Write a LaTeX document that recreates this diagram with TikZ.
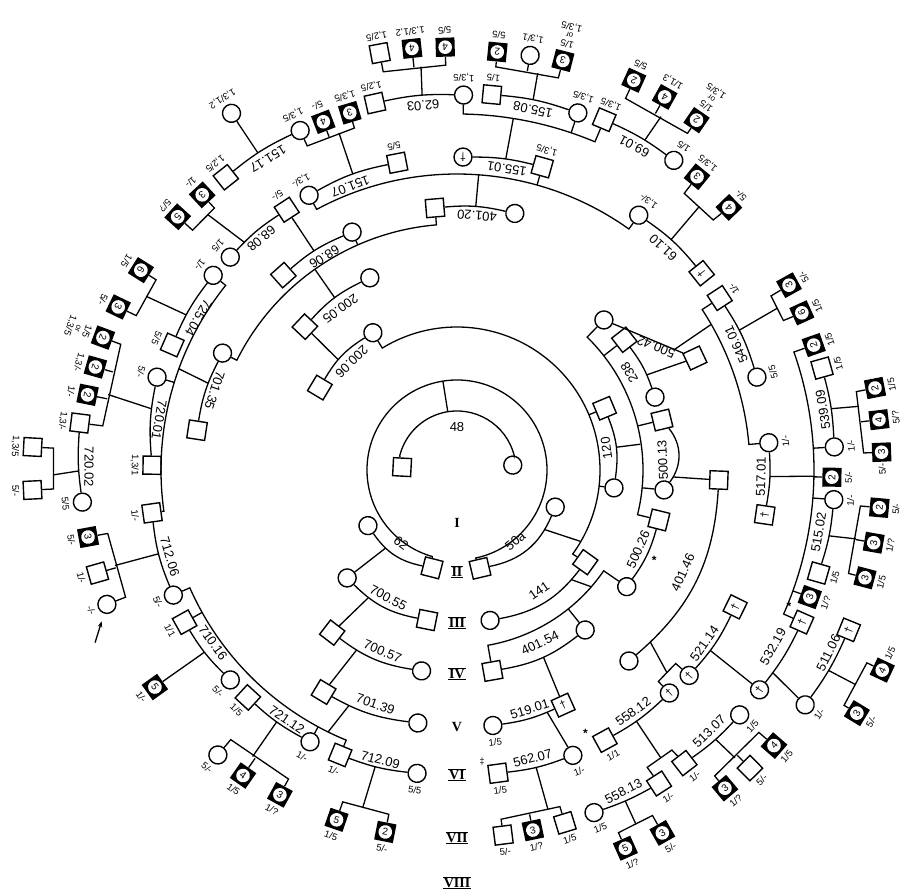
\documentclass[tikz,border=0pt]{standalone}
\usepackage{fontspec}
\setmainfont{Liberation Sans}
\newfontfamily\romanfont{Liberation Serif}
\usetikzlibrary{positioning, arrows.meta}
\tikzset{man/.style={draw, rectangle, minimum size=18pt, inner sep=0pt, line width=1.4pt},
woman/.style={draw, circle, minimum size=18pt, inner sep=0pt, line width=1.4pt},
sib/.style={rectangle, fill=black, minimum size=19pt, inner sep=0pt, font=\fontsize{10}{10}\selectfont,
  path picture={\fill[white] (path picture bounding box.center) circle (6.8pt);}},
gone/.style={font=\fontsize{11}{11}\selectfont},
lbl/.style={font=\fontsize{9.5}{10}\selectfont, inner sep=1.2pt, outer sep=2.4pt, align=center},
orr/.style={font=\fontsize{8}{9}\selectfont, inner sep=0.6pt, align=center},
fam/.style={font=\fontsize{13}{13}\selectfont, inner sep=0pt},
gen/.style={font=\romanfont\bfseries\fontsize{14}{14}\selectfont, inner sep=0.6pt},
bars/.style={append after command={(\tikzlastnode.north west) edge[line width=1pt] (\tikzlastnode.north east)
  (\tikzlastnode.south west) edge[line width=1pt] (\tikzlastnode.south east)}},
astx/.style={font=\bfseries\fontsize{12}{12}\selectfont, inner sep=0pt},
rot/.style={rotate=#1+90},
kin/.style={line width=1.3pt}}

\begin{document}
\begin{tikzpicture}[x=1pt, y=1pt]
  \useasboundingbox (-457,-420) rectangle (445,470);
  % generations I and II
  \node[man, rot=177] (i1) at (177:55) {};
  \node[woman, rot=5] (i2) at (5:56) {};
  \node[fam] (f48) at (0,43) {48};
  \node[man, rot=-104.3] (ii62h) at (-104.3:101) {};
  \node[woman, rot=-148] (ii62w) at (-148:105) {};
  \node[man, rot=-76.8] (ii50h) at (-76.8:101) {};
  \node[woman, rot=-20.7] (ii50w) at (-20.7:105) {};
  \node[fam, rot=-127.5] (f62) at (-127.5:92) {62};
  \node[fam, rot=-50.7] (f50a) at (-50.7:92) {50a};
  % generation III
  \node[man, rot=-101.3] (iii55h) at (-101.3:153) {};
  \node[woman, rot=-135.5] (iii55w) at (-135.5:154) {};
  \node[fam, rot=-118.3] (f70055) at (-118.3:145) {700.55};
  \node[woman, rot=-77.6] (iii141w) at (-77.6:154) {};
  \node[man, rot=-35.7] (iii141h) at (-35.7:158) {};
  \node[fam, rot=-55.8] (f141) at (-55.8:146) {141};
  \node[woman, rot=-6.5] (iii120w) at (-6.5:158) {};
  \node[man, rot=22.7] (iii120h) at (22.7:160) {};
  \node[fam, rot=8.3] (f120) at (8.3:151) {120};
  \node[man, rot=149] (iii206h) at (149:160) {};
  \node[woman, rot=121.5] (iii206w) at (121.5:161) {};
  \node[fam, rot=134.2] (f20006) at (134.2:151) {200.06};
  % generation IV
  \node[man, rot=-127.5] (iv57h) at (-127.5:205) {};
  \node[woman, rot=-100] (iv57w) at (-100:204) {};
  \node[fam, rot=-112.3] (f70057) at (-112.3:196) {700.57};
  \node[man, rot=-80] (iv154h) at (-80:204) {};
  \node[woman, rot=-51.3] (iv154w) at (-51.3:205) {};
  \node[fam, rot=-64.4] (f40154) at (-64.4:192) {401.54};
  \node[man, rot=-13.9] (iv26h) at (-13.9:208) {};
  \node[woman, rot=-34.5] (iv26w) at (-34.5:206) {};
  \node[fam, rot=-23.7] (f50026) at (-23.7:198) {500.26};
  \node[man, rot=13.7] (iv13h) at (13.7:211) {};
  \node[woman, rot=-5.5] (iv13w) at (-5.5:208) {};
  \node[fam, rot=2.8] (f50013) at (2.8:206) {500.13};
  \node[man, rot=37.9] (iv238h) at (37.9:212) {};
  \node[woman, rot=20.2] (iv238w) at (20.2:211) {};
  \node[fam, rot=29.5] (f238) at (29.5:198) {238};
  \node[woman, rot=45.6] (iv42w) at (45.6:210) {};
  \node[man, rot=136.7] (iv205h) at (136.7:209) {};
  \node[woman, rot=114.4] (iv205w) at (114.4:211) {};
  \node[fam, rot=125.8] (f20005) at (125.8:199) {200.05};
  % generation V
  \node[man, rot=-121] (v39h) at (-121:259) {};
  \node[woman, rot=-98.8] (v39w) at (-98.8:256) {};
  \node[fam, rot=-109.2] (f70139) at (-109.2:248) {701.39};
  \node[man, gone, rot=-65.7] (v519h) at (-65.7:258) {†};
  \node[woman, rot=-82] (v519w) at (-82:258) {};
  \node[lbl, rot=-82, below=0pt of v519w] (v519wl) {1/5};
  \node[fam, rot=-73.1] (f51901) at (-73.1:250) {519.01};
  \node[man, rot=-2.2] (v46h) at (-2.2:262) {};
  \node[woman, rot=-48] (v46w) at (-48:257) {};
  \node[fam, rot=-24.4] (f40146) at (-24.4:248) {401.46};
  \node[man, rot=25.2] (v42h) at (25.2:263) {};
  \node[fam, rotate=158] (f50042) at (31.7:234) {500.42};
  \node[man, rot=94.8] (v20h) at (94.8:263) {};
  \node[woman, rot=77.3] (v20w) at (77.3:263) {};
  \node[fam, rot=85.5] (f40120) at (85.5:255) {401.20};
  \node[woman, rot=113.8] (v806w) at (113.8:260) {};
  \node[man, rot=131.7] (v806h) at (131.7:261) {};
  \node[fam, rot=121.9] (f6806) at (121.9:251) {68.06};
  \node[woman, rot=153.5] (v35w) at (153.5:262) {};
  \node[man, rot=171.3] (v35h) at (171.3:263) {};
  \node[fam, rot=161.8] (f70135) at (161.8:255) {701.35};
  % generation VI
  \node[woman, rot=118.3] (vi07w) at (118.3:312) {};
  \node[lbl, rot=118.3, below=0pt of vi07w] (vi07wl) {1,3/-};
  \node[man, rot=101] (vi07h) at (101:313) {};
  \node[lbl, rot=101, below=0pt of vi07h] (vi07hl) {5/5};
  \node[fam, rot=110.6] (f15107) at (110.6:303) {151.07};
  \node[woman, gone, rot=88.9] (vi01w) at (88.9:313) {†};
  \node[man, rot=74.3] (vi01h) at (74.3:315) {};
  \node[lbl, rot=74.3, below=0pt of vi01h] (vi01hl) {1,3/5};
  \node[fam, rot=80.6] (f15501) at (80.6:305) {155.01};
  \node[woman, rot=54.5] (vi10w) at (54.5:313) {};
  \node[lbl, rot=54.5, below=0pt of vi10w] (vi10wl) {1,3/-};
  \node[man, gone, rot=38.8] (vi10h) at (38.8:314) {†};
  \node[fam, rot=47.1] (f6110) at (47.1:303) {61.10};
  \node[man, rot=33.2] (vi46h) at (33.2:314) {};
  \node[lbl, rot=33.2, below=0pt of vi46h] (vi46hl) {1/-};
  \node[woman, rot=17.2] (vi46w) at (17.2:314) {};
  \node[lbl, rot=17.2, below=0pt of vi46w] (vi46wl) {5/5};
  \node[fam, rot=24.2] (f54601) at (24.2:306) {546.01};
  \node[woman, rot=5] (vi17w) at (5:313) {};
  \node[lbl, rot=5, below=0pt of vi17w] (vi17wl) {1/-};
  \node[man, gone, rot=-8.3] (vi17h) at (-8.3:311) {†};
  \node[fam, rot=-1.3] (f51701) at (-1.3:304) {517.01};
  \node[man, gone, rot=-26.2] (vi14h) at (-26.2:310) {†};
  \node[woman, gone, rot=-41.5] (vi14w) at (-41.5:310) {†};
  \node[fam, rot=-35] (f52114) at (-35:302) {521.14};
  \node[woman, gone, rot=-46.4] (vi12w) at (-46.4:308) {†};
  \node[man, rot=-61.3] (vi12h) at (-61.3:308) {};
  \node[lbl, rot=-61.3, below=0pt of vi12h] (vi12hl) {1/1};
  \node[fam, rot=-53.9] (f55812) at (-53.9:299) {558.12};
  \node[woman, rot=-67.9] (vi62w) at (-67.9:308) {};
  \node[lbl, rot=-67.9, below=0pt of vi62w] (vi62wl) {1/-};
  \node[man, rot=-82.3] (vi62h) at (-82.3:306) {};
  \node[lbl, rot=-82.3, below=0pt of vi62h] (vi62hl) {1/5};
  \node[fam, rot=-75.3] (f56207) at (-75.3:298) {562.07};
  \node[woman, rot=-97.5] (vi09w) at (-97.5:306) {};
  \node[lbl, rot=-97.5, below=0pt of vi09w] (vi09wl) {5/5};
  \node[man, rot=-112.3] (vi09h) at (-112.3:308) {};
  \node[lbl, rot=-112.3, below=0pt of vi09h] (vi09hl) {1/-};
  \node[fam, rot=-104.8] (f71209) at (-104.8:300) {712.09};
  \node[woman, rot=-118.4] (vi21w) at (-118.4:309) {};
  \node[lbl, rot=-118.4, below=0pt of vi21w] (vi21wl) {1/-};
  \node[man, rot=-132.6] (vi21h) at (-132.6:309) {};
  \node[lbl, rot=-132.6, below=0pt of vi21h] (vi21hl) {1/5};
  \node[fam, rot=-124.3] (f72112) at (-124.3:302) {721.12};
  \node[woman, rot=-137.2] (vi16w) at (-137.2:309) {};
  \node[lbl, rot=-137.2, below=0pt of vi16w] (vi16wl) {5/-};
  \node[man, rot=209.2] (vi16h) at (209.2:312) {};
  \node[lbl, rot=209.2, below=0pt of vi16h] (vi16hl) {1/1};
  \node[fam, rot=215.3] (f71016) at (215.3:299) {710.16};
  \node[woman, rot=203.8] (vi06w) at (203.8:310) {};
  \node[lbl, rot=203.8, below=0pt of vi06w] (vi06wl) {5/-};
  \node[man, rot=188] (vi06h) at (188:308) {};
  \node[lbl, rot=188, below=0pt of vi06h] (vi06hl) {1/-};
  \node[fam, rot=196.8] (f71206) at (196.8:300) {712.06};
  \node[man, rot=179.1] (vi201h) at (179.1:305) {};
  \node[lbl, rot=179.1, below=0pt of vi201h] (vi201hl) {1,3/1};
  \node[woman, rot=162.8] (vi201w) at (162.8:314) {};
  \node[lbl, rot=162.8, below=0pt of vi201w] (vi201wl) {5/-};
  \node[fam, rot=170.5] (f72001) at (170.5:302) {720.01};
  \node[man, rot=156.3] (vi25h) at (156.3:311) {};
  \node[lbl, rot=156.3, below=0pt of vi25h] (vi25hl) {5/5};
  \node[woman, rot=141.4] (vi25w) at (141.4:312) {};
  \node[lbl, rot=141.4, below=0pt of vi25w] (vi25wl) {1/-};
  \node[fam, rot=149.5] (f72504) at (149.5:300) {725.04};
  \node[woman, rot=136.8] (vi808w) at (136.8:311) {};
  \node[lbl, rot=136.8, below=0pt of vi808w] (vi808wl) {1/5};
  \node[man, rot=123.2] (vi808h) at (123.2:311) {};
  \node[lbl, rot=123.2, below=0pt of vi808h] (vi808hl) {5/-};
  \node[fam, rot=130.2] (f6808) at (130.2:303) {68.08};
  % generation VII
  \node[woman, rot=114.8] (vii17w) at (114.8:374) {};
  \node[lbl, rot=114.8, below=0pt of vii17w] (vii17wl) {1,3/5};
  \node[man, rot=128.3] (vii17h) at (128.3:373) {};
  \node[lbl, rot=128.3, below=0pt of vii17h] (vii17hl) {1,2/5};
  \node[fam, rot=121.3] (f15117) at (121.3:364) {151.17};
  \node[sib, rot=111] (vii07a) at (111:373) {4};
  \node[lbl, rot=111, below=0pt of vii07a] (vii07al) {5/-};
  \node[sib, rot=106.7] (vii07b) at (106.7:373) {3};
  \node[lbl, rot=106.7, below=0pt of vii07b] (vii07bl) {1,3/5};
  \node[man, rot=102.6] (vii03h) at (102.6:376) {};
  \node[lbl, rot=102.6, below=0pt of vii03h] (vii03hl) {1,2/5};
  \node[woman, rot=89] (vii03w) at (89:375) {};
  \node[lbl, rot=89, below=0pt of vii03w] (vii03wl) {1,3/5};
  \node[fam, rot=95.3] (f6203) at (95.3:366) {62.03};
  \node[man, rot=84.7] (vii08h) at (84.7:377) {};
  \node[lbl, rot=84.7, below=0pt of vii08h] (vii08hl) {1/5};
  \node[woman, rot=71.3] (vii08w) at (71.3:377) {};
  \node[lbl, rot=71.3, below=0pt of vii08w] (vii08wl) {1,3/5};
  \node[fam, rot=78.1] (f15508) at (78.1:368) {155.08};
  \node[man, rot=67.2] (vii69h) at (67.2:380) {};
  \node[lbl, rot=67.2, below=0pt of vii69h] (vii69hl) {1,3/5};
  \node[woman, rot=55] (vii69w) at (55:378) {};
  \node[lbl, rot=55, below=0pt of vii69w] (vii69wl) {1/5};
  \node[fam, rot=61.3] (f6901) at (61.3:369) {69.01};
  \node[sib, rot=50.7] (vii10a) at (50.7:379) {3};
  \node[lbl, rot=50.7, below=0pt of vii10a] (vii10al) {1,3/5};
  \node[sib, rot=44] (vii10b) at (44:378) {4};
  \node[lbl, rot=44, below=0pt of vii10b] (vii10bl) {5/-};
  \node[sib, rot=29.1] (vii46a) at (29.1:380) {3};
  \node[lbl, rot=29.1, below=0pt of vii46a] (vii46al) {5/-};
  \node[sib, rot=24.5] (vii46b) at (24.5:379) {6};
  \node[lbl, rot=24.5, below=0pt of vii46b] (vii46bl) {1/5};
  \node[sib, rot=19.3] (vii17a) at (19.3:378) {2};
  \node[lbl, rot=19.3, below=0pt of vii17a] (vii17al) {1/5};
  \node[man, rot=15.6] (vii09h) at (15.6:379) {};
  \node[lbl, rot=15.6, below=0pt of vii09h] (vii09hl) {1/5};
  \node[woman, rot=3.5] (vii09w) at (3.5:378) {};
  \node[lbl, rot=3.5, below=0pt of vii09w] (vii09wl) {1/-};
  \node[fam, rot=9.3] (f53909) at (9.3:371) {539.09};
  \node[sib, rot=-1.1] (vii17b) at (-1.1:375) {2};
  \node[lbl, rot=-1.1, below=0pt of vii17b] (vii17bl) {5/-};
  \node[woman, rot=-4.5] (vii02w) at (-4.5:378) {};
  \node[lbl, rot=-4.5, below=0pt of vii02w] (vii02wl) {1/-};
  \node[man, rot=-15.9] (vii02h) at (-15.9:376) {};
  \node[lbl, rot=-15.9, below=0pt of vii02h] (vii02hl) {1/5};
  \node[fam, rot=-9.8] (f51502) at (-9.8:367) {515.02};
  \node[sib, rot=-19.8] (vii17c) at (-19.8:375) {3};
  \node[lbl, rot=-19.8, below=0pt of vii17c] (vii17cl) {1/?};
  \node[man, gone, rot=-23.8] (vii19h) at (-23.8:377) {†};
  \node[woman, gone, rot=-36] (vii19w) at (-36:374) {†};
  \node[fam, rot=-29.2] (f53219) at (-29.2:362) {532.19};
  \node[woman, rot=-40.9] (vii13w) at (-40.9:374) {};
  \node[lbl, rot=-40.9, below=0pt of vii13w] (vii13wl) {1/5};
  \node[man, rot=-52.2] (vii13h) at (-52.2:371) {};
  \node[lbl, rot=-52.2, below=0pt of vii13h] (vii13hl) {1/-};
  \node[fam, rot=-46] (f51307) at (-46:363) {513.07};
  \node[man, rot=-57.2] (vii58h) at (-57.2:373) {};
  \node[lbl, rot=-57.2, below=0pt of vii58h] (vii58hl) {1/-};
  \node[woman, rot=-68.2] (vii58w) at (-68.2:369) {};
  \node[lbl, rot=-68.2, below=0pt of vii58w] (vii58wl) {1/5};
  \node[fam, rot=-62.6] (f55813) at (-62.6:362) {558.13};
  \node[man, rot=-73] (vii62a) at (-73:369) {};
  \node[lbl, rot=-73, below=0pt of vii62a] (vii62al) {1/5};
  \node[sib, rot=-78.1] (vii62b) at (-78.1:368) {3};
  \node[lbl, rot=-78.1, below=0pt of vii62b] (vii62bl) {1/?};
  \node[man, rot=-82.8] (vii62c) at (-82.8:368) {};
  \node[lbl, rot=-82.8, below=0pt of vii62c] (vii62cl) {5/-};
  \node[sib, rot=-101.2] (vii09a) at (-101.2:369) {2};
  \node[lbl, rot=-101.2, below=0pt of vii09a] (vii09al) {5/-};
  \node[sib, rot=-109] (vii09b) at (-109:370) {5};
  \node[lbl, rot=-109, below=0pt of vii09b] (vii09bl) {1/5};
  \node[sib, rot=-118.6] (vii21a) at (-118.6:370) {3};
  \node[lbl, rot=-118.6, below=0pt of vii21a] (vii21al) {1/?};
  \node[sib, rot=-125] (vii21b) at (-125:373) {4};
  \node[lbl, rot=-125, below=0pt of vii21b] (vii21bl) {1/5};
  \node[woman, rot=-130] (vii21c) at (-130:372) {};
  \node[lbl, rot=-130, below=0pt of vii21c] (vii21cl) {5/-};
  \node[sib, rot=-144.3] (vii16a) at (-144.3:372) {5};
  \node[lbl, rot=-144.3, below=0pt of vii16a] (vii16al) {1/-};
  \node[woman, rot=201] (vii06c) at (201:375) {};
  \node[lbl, rot=201, below=0pt of vii06c] (vii06cl) {-/-};
  \node[man, rot=196] (vii06b) at (196:374) {};
  \node[lbl, rot=196, below=0pt of vii06b] (vii06bl) {1/-};
  \node[sib, rot=190.3] (vii06a) at (190.3:375) {3};
  \node[lbl, rot=190.3, below=0pt of vii06a] (vii06al) {5/-};
  \node[woman, rot=184.9] (vii202w) at (184.9:376) {};
  \node[lbl, rot=184.9, below=0pt of vii202w] (vii202wl) {5/5};
  \node[man, rot=172.9] (vii202h) at (172.9:380) {};
  \node[lbl, rot=172.9, below=0pt of vii202h] (vii202hl) {1,3/-};
  \node[fam, rot=179.5] (f72002) at (179.5:368) {720.02};
  \node[sib, rot=168.5] (vii01c) at (168.5:377) {2};
  \node[lbl, rot=168.5, below=0pt of vii01c] (vii01cl) {1/-};
  \node[sib, rot=164.1] (vii01b) at (164.1:376) {2};
  \node[lbl, rot=164.1, below=0pt of vii01b] (vii01bl) {1,3/-};
  \node[sib, rot=159.5] (vii01a) at (159.5:378) {2};
  \node[lbl, rot=159.5, below=0pt of vii01a] (vii01al) {1/5};
  \node[orr, rot=159.5, below=0pt of vii01al] (vii01ao) {or};
  \node[lbl, rot=159.5, outer sep=0pt, below=0pt of vii01ao] (vii01ap) {1,3/5};
  \node[sib, rot=154.3] (vii25b) at (154.3:376) {3};
  \node[lbl, rot=154.3, below=0pt of vii25b] (vii25bl) {5/-};
  \node[sib, rot=147.7] (vii25a) at (147.7:374) {6};
  \node[lbl, rot=147.7, below=0pt of vii25a] (vii25al) {1/5};
  \node[sib, rot=137.8] (vii808b) at (137.8:377) {5};
  \node[lbl, rot=137.8, below=0pt of vii808b] (vii808bl) {5/?};
  \node[sib, rot=132.8] (vii808a) at (132.8:375) {3};
  \node[lbl, rot=132.8, below=0pt of vii808a] (vii808al) {1/-};
  % generation VIII
  \node[woman, rot=122.3] (viii17) at (122.3:422) {};
  \node[lbl, rot=122.3, below=0pt of viii17] (viii17l) {1,3/1,2};
  \node[man, rot=100.5] (viii03a) at (100.5:424) {};
  \node[lbl, rot=100.5, below=0pt of viii03a] (viii03al) {1,2/5};
  \node[sib, rot=96.1] (viii03b) at (96.1:424) {4};
  \node[lbl, rot=96.1, below=0pt of viii03b] (viii03bl) {1,3/1,2};
  \node[sib, rot=91.6] (viii03c) at (91.6:423) {4};
  \node[lbl, rot=91.6, below=0pt of viii03c] (viii03cl) {5/5};
  \node[sib, rot=84.5] (viii08a) at (84.5:420) {2};
  \node[lbl, rot=84.5, below=0pt of viii08a] (viii08al) {5/5};
  \node[woman, rot=80] (viii08b) at (80:421) {};
  \node[lbl, rot=80, below=0pt of viii08b] (viii08bl) {1,3/1};
  \node[sib, rot=75.5] (viii08c) at (75.5:423) {3};
  \node[lbl, rot=75.5, below=0pt of viii08c] (viii08cl) {1/5};
  \node[orr, rot=75.5, below=0pt of viii08cl] (viii08co) {or};
  \node[lbl, rot=75.5, outer sep=0pt, below=0pt of viii08co] (viii08cp) {1,3/5};
  \node[sib, rot=65.6] (viii69a) at (65.6:428) {2};
  \node[lbl, rot=65.6, below=0pt of viii69a] (viii69al) {5/5};
  \node[sib, rot=60.9] (viii69b) at (60.9:427) {4};
  \node[lbl, rot=60.9, below=0pt of viii69b] (viii69bl) {1/1,3};
  \node[sib, rot=55.6] (viii69c) at (55.6:424) {2};
  \node[lbl, rot=55.6, below=0pt of viii69c] (viii69cl) {1/5};
  \node[orr, rot=55.6, below=0pt of viii69cl] (viii69co) {or};
  \node[lbl, rot=55.6, outer sep=0pt, below=0pt of viii69co] (viii69cp) {1,3/5};
  \node[sib, rot=11.1] (viii09a) at (11.1:426) {2};
  \node[lbl, rot=11.1, below=0pt of viii09a] (viii09al) {1/5};
  \node[sib, rot=6.8] (viii09b) at (6.8:425) {4};
  \node[lbl, rot=6.8, below=0pt of viii09b] (viii09bl) {5/?};
  \node[sib, rot=2.4] (viii09c) at (2.4:425) {3};
  \node[lbl, rot=2.4, outer sep=0.8pt, left=0pt of viii09c] (viii09cl) {5/-};
  \node[sib, rot=-5.1] (viii02a) at (-5.1:424) {2};
  \node[lbl, rot=-5.1, below=0pt of viii02a] (viii02al) {5/-};
  \node[sib, rot=-9.9] (viii02b) at (-9.9:423) {3};
  \node[lbl, rot=-9.9, below=0pt of viii02b] (viii02bl) {1/?};
  \node[sib, rot=-14.8] (viii02c) at (-14.8:422) {3};
  \node[lbl, rot=-14.8, below=0pt of viii02c] (viii02cl) {1/5};
  \node[man, gone, rot=-22.2] (viii06h) at (-22.2:423) {†};
  \node[woman, rot=-34] (viii06w) at (-34:420) {};
  \node[lbl, rot=-34, below=0pt of viii06w] (viii06wl) {1/-};
  \node[fam, rot=-26.2] (f51106) at (-26.2:414) {511.06};
  \node[sib, rot=-41] (viii13a) at (-41:420) {4};
  \node[lbl, rot=-41, below=0pt of viii13a] (viii13al) {1/5};
  \node[man, rot=-45.5] (viii13b) at (-45.5:418) {};
  \node[lbl, rot=-45.5, below=0pt of viii13b] (viii13bl) {5/-};
  \node[sib, rot=-49.9] (viii13c) at (-49.9:416) {3};
  \node[lbl, rot=-49.9, below=0pt of viii13c] (viii13cl) {1/?};
  \node[sib, rot=-60.5] (viii58a) at (-60.5:417) {3};
  \node[lbl, rot=-60.5, below=0pt of viii58a] (viii58al) {5/-};
  \node[sib, rot=-66] (viii58b) at (-66:414) {5};
  \node[lbl, rot=-66, below=0pt of viii58b] (viii58bl) {1/?};
  \node[man, rot=176.9] (viii202a) at (176.9:425) {};
  \node[lbl, rot=176.9, below=0pt of viii202a] (viii202al) {1,3/5};
  \node[man, rot=182.7] (viii202b) at (182.7:425) {};
  \node[lbl, rot=182.7, below=0pt of viii202b] (viii202bl) {5/-};
  \node[sib, rot=-25.2] (ix06a) at (-25.2:470) {4};
  \node[lbl, rot=-25.2, outer sep=0.8pt, right=0pt of ix06a] (ix06al) {1/5};
  \node[sib, rot=-31.3] (ix06b) at (-31.3:468) {3};
  \node[lbl, rot=-31.3, below=0pt of ix06b] (ix06bl) {5/-};
  % marks
  \node[astx] (ast1) at (-24.6:217) {*};
  \node[astx] (ast2) at (-22.4:359) {*};
  \node[astx] (ast3) at (-64:293) {*};
  \node[font=\fontsize{9}{9}\selectfont] (dag1) at (-85.1:293) {‡};
  \coordinate (arrt) at (205.5:401);
  \draw[kin, -{Stealth[length=6pt]}, shorten >=8pt] (arrt) -- (vii06c);
  % generation numerals
  \node[gen] (g1) at (0,-53) {I};
  \node[gen, bars] (g2) at (0,-102) {II};
  \node[gen, bars] (g3) at (0,-153) {III};
  \node[gen, bars] (g4) at (0,-204) {IV};
  \node[gen] (g5) at (0,-257) {V};
  \node[gen, bars] (g6) at (0,-305) {VI};
  \node[gen, bars] (g7) at (0,-368) {VII};
  \node[gen, bars] (g8) at (0,-413) {VIII};

  % 48 and the ring of its children
  \coordinate (c48a) at (14:59);
  \draw[kin] (i2) -- (c48a) arc[start angle=14, end angle=166, radius=59] -- (i1);
  \coordinate (c48d) at (99:59);
  \coordinate (c48e) at (99:90);
  \draw[kin] (c48d) -- (c48e);
  \coordinate (c2r) at (-78:90);
  \draw[kin] (ii50h) -- (c2r) arc[start angle=-78, end angle=254, radius=90] -- (ii62h);
  % generation II couples
  \draw[kin] (ii62w) to[bend right=22] node[coordinate, pos=.3] (m62) {} (ii62h);
  \draw[kin] (m62) -- (iii55w);
  \draw[kin] (ii50h) to[bend right=28] node[coordinate, pos=.83] (m50) {} (ii50w);
  \coordinate (c3d) at (-30:143);
  \draw[kin] (m50) -- (c3d);
  \coordinate (c3a) at (-36:143);
  \draw[kin] (iii141h) -- (c3a) arc[start angle=-36, end angle=121.5, radius=143] -- (iii206w);
  \coordinate (c3b) at (-6.5:143);
  \draw[kin] (iii120w) -- (c3b);
  \coordinate (c3c) at (22.7:143);
  \draw[kin] (iii120h) -- (c3c);
  % generation III couples
  \draw[kin] (iii55w) to[bend right=17] node[coordinate, pos=.25] (m70055) {} (iii55h);
  \draw[kin] (m70055) -- (iv57h);
  \draw[kin] (iii141w) to[bend right=21] node[coordinate, pos=.88] (m141) {} (iii141h);
  \coordinate (c141d) at (-41:178);
  \draw[kin] (m141) -- (c141d);
  \coordinate (c141a) at (-80:178);
  \draw[kin] (iv154h) -- (c141a) arc[start angle=-80, end angle=-34.5, radius=178] -- (iv26w);
  \coordinate (c141b) at (-51.3:178);
  \draw[kin] (iv154w) -- (c141b);
  \draw[kin] (iii120w) to[bend right=15] node[coordinate, pos=.5] (m120) {} (iii120h);
  \coordinate (c120d) at (8:185);
  \draw[kin] (m120) -- (c120d);
  \coordinate (c120a) at (-13.9:186);
  \draw[kin] (iv26h) -- (c120a) arc[start angle=-13.9, end angle=45.6, radius=186] -- (iv42w);
  \coordinate (c120b) at (-5.5:186);
  \draw[kin] (iv13w) -- (c120b);
  \coordinate (c120e) at (13.7:186);
  \draw[kin] (iv13h) -- (c120e);
  \coordinate (c120c) at (37.9:186);
  \draw[kin] (iv238h) -- (c120c);
  \draw[kin] (iii206w) to[bend right=14] node[coordinate, pos=.6] (m20006) {} (iii206h);
  \draw[kin] (m20006) -- (iv205h);
  % generation IV couples
  \draw[kin] (iv57h) to[bend right=14] node[coordinate, pos=.24] (m70057) {} (iv57w);
  \draw[kin] (m70057) -- (v39h);
  \draw[kin] (iv154h) to[bend right=14] node[coordinate, pos=.52] (m40154) {} (iv154w);
  \draw[kin] (m40154) -- (v519h);
  \draw[kin] (iv26w) to[bend right=10] (iv26h);
  \draw[kin] (iv13w) to[bend right=38] node[coordinate, pos=.1] (m50013) {} (iv13h);
  \draw[kin] (m50013) -- (v46h);
  \draw[kin] (iv238w) to[bend right=9] node[coordinate, pos=.29] (m238) {} (iv238h);
  \draw[kin] (m238) -- (v42h);
  \draw[kin] (iv205w) to[bend right=11] node[coordinate, pos=.49] (m20005) {} (iv205h);
  \coordinate (c205d) at (125.3:246);
  \draw[kin] (m20005) -- (c205d);
  \coordinate (c205a) at (94.8:246);
  \draw[kin] (v20h) -- (c205a) arc[start angle=94.8, end angle=153.5, radius=246] -- (v35w);
  \coordinate (c205b) at (113.8:246);
  \draw[kin] (v806w) -- (c205b);
  % generation V couples
  \draw[kin] (v39h) to[bend right=11] node[coordinate, pos=.22] (m70139) {} (v39w);
  \coordinate (c39d) at (-116.2:292);
  \draw[kin] (m70139) -- (c39d);
  \coordinate (c39a) at (203.8:292);
  \draw[kin] (vi06w) -- (c39a) arc[start angle=203.8, end angle=247.7, radius=292] -- (vi09h);
  \coordinate (c39b) at (209.2:292);
  \draw[kin] (vi16h) -- (c39b);
  \coordinate (c39c) at (241.6:292);
  \draw[kin] (vi21w) -- (c39c);
  \draw[kin] (v519w) to[bend right=8] node[coordinate, pos=.87] (m51901) {} (v519h);
  \draw[kin] (m51901) -- (vi62w);
  \draw[kin] (v46w) to[bend right=23] node[coordinate, pos=.09] (m40146) {} (v46h);
  \coordinate (c46d) at (-44:292);
  \draw[kin] (m40146) -- (c46d);
  \coordinate (c46a) at (-46.4:292);
  \coordinate (c46b) at (-41.5:292);
  \draw[kin] (vi12w) -- (c46a) -- (c46b) -- (vi14w);
  \draw[kin] (v42h) -- node[coordinate, pos=.12] (m50042) {} (iv42w);
  \coordinate (c42d) at (29.8:293);
  \draw[kin] (m50042) -- (c42d);
  \coordinate (c42a) at (5:293);
  \draw[kin] (vi17w) -- (c42a) arc[start angle=5, end angle=33.2, radius=293] -- (vi46h);
  \draw[kin] (v20w) to[bend right=9] node[coordinate, pos=.49] (m40120) {} (v20h);
  \coordinate (c20d) at (85.8:296);
  \draw[kin] (m40120) -- (c20d);
  \coordinate (c20a) at (54.5:296);
  \draw[kin] (vi10w) -- (c20a) arc[start angle=54.5, end angle=118.3, radius=296] -- (vi07w);
  \coordinate (c20b) at (74.3:296);
  \draw[kin] (vi01h) -- (c20b);
  \draw[kin] (v806w) to[bend right=9] node[coordinate, pos=.53] (m6806) {} (v806h);
  \draw[kin] (m6806) -- (vi808h);
  \draw[kin] (v35w) to[bend right=9] node[coordinate, pos=.37] (m70135) {} (v35h);
  \coordinate (c35d) at (160:296);
  \draw[kin] (m70135) -- (c35d);
  \coordinate (c35a) at (141.4:296);
  \draw[kin] (vi25w) -- (c35a) arc[start angle=141.4, end angle=188, radius=296] -- (vi06h);
  \coordinate (c35b) at (162.8:296);
  \draw[kin] (vi201w) -- (c35b);
  % generation VI couples
  \draw[kin] (vi07h) to[bend right=9] node[coordinate, pos=.48] (m15107) {} (vi07w);
  \coordinate (c107d) at (109.3:357);
  \draw[kin] (m15107) -- (c107d);
  \coordinate (c107a) at (106.7:357);
  \coordinate (c107b) at (111:357);
  \coordinate (c107c) at (114.8:357);
  \draw[kin] (vii07b) -- (c107a) -- (c107c) -- (vii17w);
  \draw[kin] (vii07a) -- (c107b);
  \draw[kin] (vi01h) to[bend right=7] node[coordinate, pos=.45] (m15501) {} (vi01w);
  \coordinate (c501d) at (80.9:356);
  \draw[kin] (m15501) -- (c501d);
  \coordinate (c501a) at (67.2:356);
  \draw[kin] (vii69h) -- (c501a) arc[start angle=67.2, end angle=89, radius=356] -- (vii03w);
  \coordinate (c501b) at (71.3:356);
  \draw[kin] (vii08w) -- (c501b);
  \draw[kin] (vi10h) to[bend right=8] node[coordinate, pos=.54] (m6110) {} (vi10w);
  \coordinate (c610d) at (47.4:358);
  \draw[kin] (m6110) -- (c610d);
  \coordinate (c610a) at (44.3:358);
  \coordinate (c610b) at (50.6:358);
  \draw[kin] (vii10b) -- (c610a) -- (c610b) -- (vii10a);
  \draw[kin] (vi46w) to[bend right=8] node[coordinate, pos=.6] (m54601) {} (vi46h);
  \coordinate (c4601d) at (26.8:359);
  \draw[kin] (m54601) -- (c4601d);
  \coordinate (c4601a) at (24.6:359);
  \coordinate (c4601b) at (29:359);
  \draw[kin] (vii46b) -- (c4601a) -- (c4601b) -- (vii46a);
  \draw[kin] (vi17h) to[bend right=7] node[coordinate, pos=.55] (m51701) {} (vi17w);
  \coordinate (c1701d) at (-1:357);
  \draw[kin] (m51701) -- (c1701d);
  \coordinate (c1701a) at (-23.8:357);
  \draw[kin] (vii19h) -- (c1701a) arc[start angle=-23.8, end angle=19.3, radius=357] -- (vii17a);
  \coordinate (c1701b) at (3.5:357);
  \coordinate (c1701c) at (-1.1:357);
  \coordinate (c1701e) at (-4.5:357);
  \coordinate (c1701f) at (-19.8:357);
  \draw[kin] (vii09w) -- (c1701b);
  \draw[kin] (vii17b) -- (c1701c);
  \draw[kin] (vii02w) -- (c1701e);
  \draw[kin] (vii17c) -- (c1701f);
  \draw[kin] (vi14w) to[bend right=8] node[coordinate, pos=.35] (m52114) {} (vi14h);
  \draw[kin] (m52114) -- (vii19w);
  \draw[kin] (vi12h) to[bend right=7] node[coordinate, pos=.44] (m55812) {} (vi12w);
  \coordinate (c5812d) at (-54.7:353);
  \draw[kin] (m55812) -- (c5812d);
  \coordinate (c5812a) at (-57.4:353);
  \coordinate (c5812b) at (-52.5:353);
  \draw[kin] (vii58h) -- (c5812a) -- (c5812b) -- (vii13h);
  \draw[kin] (vi62h) to[bend right=7] node[coordinate, pos=.5] (m56207) {} (vi62w);
  \coordinate (c6207d) at (-75:352);
  \draw[kin] (m56207) -- (c6207d);
  \coordinate (c6207a) at (-82.8:352);
  \coordinate (c6207b) at (-78.1:352);
  \coordinate (c6207c) at (-73:352);
  \draw[kin] (vii62c) -- (c6207a) -- (c6207c) -- (vii62a);
  \draw[kin] (vii62b) -- (c6207b);
  \draw[kin] (vi09h) to[bend right=7] node[coordinate, pos=.45] (m71209) {} (vi09w);
  \coordinate (c1209d) at (-105.6:351);
  \draw[kin] (m71209) -- (c1209d);
  \coordinate (c1209a) at (-109:351);
  \coordinate (c1209b) at (-101.2:351);
  \draw[kin] (vii09b) -- (c1209a) -- (c1209b) -- (vii09a);
  \draw[kin] (vi21h) to[bend right=7] node[coordinate, pos=.49] (m72112) {} (vi21w);
  \coordinate (c2112d) at (-125.5:352);
  \draw[kin] (m72112) -- (c2112d);
  \coordinate (c2112a) at (-130:352);
  \coordinate (c2112b) at (-125:352);
  \coordinate (c2112c) at (-118.6:352);
  \draw[kin] (vii21c) -- (c2112a) -- (c2112c) -- (vii21a);
  \draw[kin] (vii21b) -- (c2112b);
  \draw[kin] (vi16h) to[bend right=7] node[coordinate, pos=.48] (m71016) {} (vi16w);
  \draw[kin] (m71016) -- (vii16a);
  \draw[kin] (vi06h) to[bend right=8] node[coordinate, pos=.48] (m71206) {} (vi06w);
  \coordinate (c1206d) at (195.6:355);
  \draw[kin] (m71206) -- (c1206d);
  \coordinate (c1206a) at (190.3:355);
  \coordinate (c1206b) at (196:355);
  \coordinate (c1206c) at (201:355);
  \draw[kin] (vii06a) -- (c1206a) -- (c1206c) -- (vii06c);
  \draw[kin] (vii06b) -- (c1206b);
  \draw[kin] (vi201w) to[bend right=8] node[coordinate, pos=.31] (m72001) {} (vi201h);
  \coordinate (c2001d) at (167.8:357);
  \draw[kin] (m72001) -- (c2001d);
  \coordinate (c2001a) at (159.5:359);
  \coordinate (c2001b) at (164.1:358);
  \coordinate (c2001c) at (168.5:357);
  \coordinate (c2001e) at (172.9:357);
  \draw[kin] (vii01a) -- (c2001a) -- (c2001e) -- (vii202h);
  \draw[kin] (vii01b) -- (c2001b);
  \draw[kin] (vii01c) -- (c2001c);
  \draw[kin] (vi25w) to[bend right=7] node[coordinate, pos=.63] (m72504) {} (vi25h);
  \coordinate (c2504d) at (150.8:356);
  \draw[kin] (m72504) -- (c2504d);
  \coordinate (c2504a) at (147.7:356);
  \coordinate (c2504b) at (154.3:356);
  \draw[kin] (vii25a) -- (c2504a) -- (c2504b) -- (vii25b);
  \draw[kin] (vi808h) to[bend right=7] node[coordinate, pos=.82] (m6808) {} (vi808w);
  \coordinate (c808d) at (134.3:357);
  \draw[kin] (m6808) -- (c808d);
  \coordinate (c808a) at (132.8:357);
  \coordinate (c808b) at (137.8:357);
  \draw[kin] (vii808a) -- (c808a) -- (c808b) -- (vii808b);
  % generation VII couples
  \draw[kin] (vii17w) to[bend right=7] node[coordinate, pos=.56] (m15117) {} (vii17h);
  \draw[kin] (m15117) -- (viii17);
  \draw[kin] (vii03w) to[bend right=7] node[coordinate, pos=.45] (m6203) {} (vii03h);
  \coordinate (c203d) at (95.1:405);
  \draw[kin] (m6203) -- (c203d);
  \coordinate (c203a) at (91.6:405);
  \coordinate (c203b) at (96.1:405);
  \coordinate (c203c) at (100.5:405);
  \draw[kin] (viii03c) -- (c203a) -- (c203c) -- (viii03a);
  \draw[kin] (viii03b) -- (c203b);
  \draw[kin] (vii08w) to[bend right=7] node[coordinate, pos=.54] (m15508) {} (vii08h);
  \coordinate (c508d) at (78.5:405);
  \draw[kin] (m15508) -- (c508d);
  \coordinate (c508a) at (75.5:405);
  \coordinate (c508b) at (80:405);
  \coordinate (c508c) at (84.5:405);
  \draw[kin] (viii08c) -- (c508a) -- (c508c) -- (viii08a);
  \draw[kin] (viii08b) -- (c508b);
  \draw[kin] (vii69w) to[bend right=6] node[coordinate, pos=.41] (m6901) {} (vii69h);
  \coordinate (c901d) at (60:408);
  \draw[kin] (m6901) -- (c901d);
  \coordinate (c901a) at (55.6:408);
  \coordinate (c901b) at (60.9:408);
  \coordinate (c901c) at (65.6:408);
  \draw[kin] (viii69c) -- (c901a) -- (c901c) -- (viii69a);
  \draw[kin] (viii69b) -- (c901b);
  \draw[kin] (vii09w) to[bend right=6] node[coordinate, pos=.47] (m53909) {} (vii09h);
  \coordinate (c909d) at (9:407);
  \draw[kin] (m53909) -- (c909d);
  \coordinate (c909a) at (2.4:407);
  \coordinate (c909b) at (6.8:407);
  \coordinate (c909c) at (11.1:407);
  \draw[kin] (viii09c) -- (c909a) -- (c909c) -- (viii09a);
  \draw[kin] (viii09b) -- (c909b);
  \draw[kin] (vii02h) to[bend right=6] node[coordinate, pos=.52] (m51502) {} (vii02w);
  \coordinate (c502d) at (-9.8:405);
  \draw[kin] (m51502) -- (c502d);
  \coordinate (c502a) at (-14.8:405);
  \coordinate (c502b) at (-9.9:405);
  \coordinate (c502c) at (-5.1:405);
  \draw[kin] (viii02c) -- (c502a) -- (c502c) -- (viii02a);
  \draw[kin] (viii02b) -- (c502b);
  \draw[kin] (vii19w) to[bend right=6] node[coordinate, pos=.18] (m53219) {} (vii19h);
  \draw[kin] (m53219) -- (viii06w);
  \draw[kin] (vii13h) to[bend right=6] node[coordinate, pos=.55] (m51307) {} (vii13w);
  \coordinate (c307d) at (-46:400);
  \draw[kin] (m51307) -- (c307d);
  \coordinate (c307a) at (-49.9:400);
  \coordinate (c307b) at (-45.5:400);
  \coordinate (c307c) at (-41:400);
  \draw[kin] (viii13c) -- (c307a) -- (c307c) -- (viii13a);
  \draw[kin] (viii13b) -- (c307b);
  \draw[kin] (vii58w) to[bend right=5] node[coordinate, pos=.45] (m55813) {} (vii58h);
  \coordinate (c813d) at (-63.2:397);
  \draw[kin] (m55813) -- (c813d);
  \coordinate (c813a) at (-66:397);
  \coordinate (c813b) at (-60.5:397);
  \draw[kin] (viii58b) -- (c813a) -- (c813b) -- (viii58a);
  \draw[kin] (vii202h) to[bend right=6] node[coordinate, pos=.65] (m72002) {} (vii202w);
  \coordinate (c2002d) at (180.7:404);
  \draw[kin] (m72002) -- (c2002d);
  \coordinate (c2002a) at (176.9:404);
  \coordinate (c2002b) at (182.7:404);
  \draw[kin] (viii202a) -- (c2002a) -- (c2002b) -- (viii202b);
  % generation VIII couple
  \draw[kin] (viii06w) to[bend right=6] node[coordinate, pos=.47] (m51106) {} (viii06h);
  \coordinate (c106d) at (-28.3:453);
  \draw[kin] (m51106) -- (c106d);
  \coordinate (c106a) at (-31.3:453);
  \coordinate (c106b) at (-25.2:453);
  \draw[kin] (ix06b) -- (c106a) -- (c106b) -- (ix06a);
\end{tikzpicture}
\end{document}
